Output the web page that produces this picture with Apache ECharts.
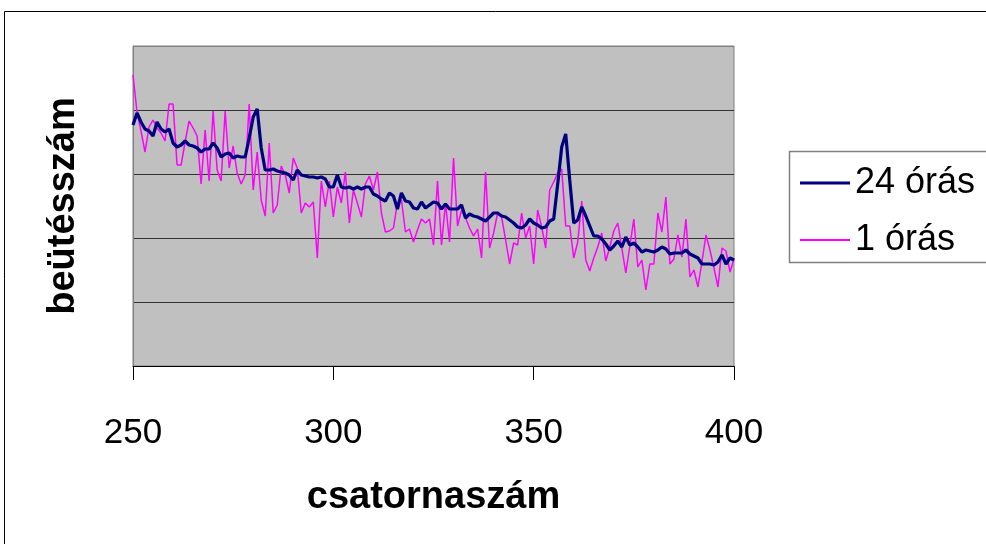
<!DOCTYPE html>
<html>
<head>
<meta charset="utf-8">
<script src="https://cdn.jsdelivr.net/npm/echarts@6/dist/echarts.min.js"></script>
<style>
  html, body { margin: 0; padding: 0; background: #fff; }
  #chart { width: 986px; height: 544px; }
</style>
</head>
<body>
<div id="chart"></div>
<script>
// Spectrum counts per channel, channels 250..400
const firstChannel = 250;
const xTicks = [250, 300, 350, 400];
const seriesNames = ['24 órás', '1 órás'];

const counts24h = [
  241, 253, 244, 237, 235, 230, 244, 237, 234, 237,
  223, 219, 221, 225, 221, 220, 218, 214, 217, 217,
  223, 218, 209, 212, 213, 208, 210, 209, 209, 228,
  249, 257, 218, 196, 196, 197, 195, 194, 193, 191,
  186, 196, 191, 190, 189, 189, 188, 189, 187, 179,
  179, 191, 179, 178, 179, 177, 179, 177, 179, 179,
  172, 170, 167, 165, 173, 170, 157, 173, 165, 164,
  158, 157, 164, 158, 161, 164, 163, 157, 162, 157,
  157, 157, 161, 148, 152, 150, 149, 147, 145, 149,
  153, 153, 150, 149, 146, 143, 139, 138, 141, 147,
  143, 141, 138, 139, 145, 147, 182, 219, 232, 186,
  143, 146, 159, 150, 140, 130, 130, 127, 122, 116,
  120, 125, 119, 129, 121, 123, 119, 114, 116, 115,
  114, 116, 119, 117, 112, 113, 113, 113, 116, 112,
  110, 108, 102, 102, 102, 101, 104, 111, 102, 108,
  106
];

const counts1h = [
  291, 254, 235, 214, 239, 246, 238, 233, 225, 262,
  262, 201, 201, 224, 245, 238, 230, 182, 236, 185,
  255, 196, 185, 255, 198, 220, 193, 182, 191, 262,
  176, 214, 166, 150, 223, 153, 161, 200, 191, 173,
  208, 198, 153, 163, 159, 164, 108, 185, 159, 185,
  149, 179, 163, 194, 143, 176, 163, 149, 182, 190,
  176, 194, 153, 134, 135, 138, 163, 166, 134, 137,
  124, 136, 147, 143, 147, 121, 185, 121, 163, 124,
  208, 140, 156, 148, 138, 130, 137, 108, 194, 118,
  133, 153, 149, 126, 102, 123, 121, 153, 128, 140,
  102, 156, 139, 118, 176, 184, 193, 197, 140, 140,
  108, 124, 165, 106, 95, 108, 119, 133, 105, 119,
  135, 143, 118, 93, 120, 147, 99, 106, 76, 102,
  102, 153, 134, 169, 102, 107, 131, 109, 147, 89,
  96, 79, 104, 131, 116, 98, 79, 118, 115, 94,
  107
];

function toPairs(values) {
  return values.map((v, i) => [firstChannel + i, v]);
}

const chart = echarts.init(document.getElementById('chart'), null, { renderer: 'canvas' });

const font = '"Liberation Sans", Arial, sans-serif';

const legendBase = {
  orient: 'vertical',
  left: 790,
  padding: [0, 10, 0, 10],
  itemWidth: 50,
  icon: 'rect',
  textStyle: { fontSize: 36, color: '#000', fontFamily: font }
};

chart.setOption({
  animation: false,
  backgroundColor: '#ffffff',
  textStyle: { fontFamily: font },
  grid: {
    left: 133, right: 252, top: 46, bottom: 178,
    show: true,
    backgroundColor: '#c0c0c0',
    borderColor: '#808080',
    borderWidth: 1
  },
  xAxis: {
    type: 'value',
    min: xTicks[0],
    max: xTicks[xTicks.length - 1],
    interval: 50,
    name: 'csatornaszám',
    nameLocation: 'middle',
    nameGap: 113,
    nameTextStyle: { fontSize: 38, fontWeight: 'bold', color: '#000', fontFamily: font },
    axisLine: { show: true, onZero: false, lineStyle: { color: '#000', width: 1 } },
    axisTick: { show: true, inside: false, length: 14, lineStyle: { color: '#000', width: 1 } },
    axisLabel: { fontSize: 35, color: '#000', margin: 50, fontFamily: font },
    splitLine: { show: false }
  },
  yAxis: {
    type: 'value',
    min: 0,
    max: 320,
    interval: 64,
    name: 'beütésszám',
    nameLocation: 'middle',
    nameGap: 50,
    nameTextStyle: { fontSize: 38, fontWeight: 'bold', color: '#000', fontFamily: font },
    axisLine: { show: true, lineStyle: { color: '#808080', width: 1 } },
    axisTick: { show: false },
    axisLabel: { show: false },
    splitLine: {
      show: true,
      lineStyle: { color: ['#000', '#333', '#333', '#333', '#333', '#808080'], width: 1.2 }
    }
  },
  legend: [
    Object.assign({}, legendBase, { top: 165, itemHeight: 3, data: [seriesNames[0]] }),
    Object.assign({}, legendBase, { top: 222, itemHeight: 2, data: [seriesNames[1]] })
  ],
  graphic: [
    {
      type: 'rect',
      shape: { x: 4.5, y: 11.5, width: 1100, height: 700 },
      style: { fill: 'none', stroke: '#000', lineWidth: 1 },
      silent: true, z: -1
    },
    {
      type: 'rect',
      shape: { x: 789.5, y: 151.5, width: 400, height: 111 },
      style: { fill: '#fff', stroke: '#808080', lineWidth: 1.5 },
      silent: true, z: 0
    }
  ],
  series: [
    {
      name: seriesNames[1],
      type: 'line',
      data: toPairs(counts1h),
      symbol: 'none',
      lineStyle: { color: '#ff00ff', width: 1.5 },
      itemStyle: { color: '#ff00ff' },
      z: 2
    },
    {
      name: seriesNames[0],
      type: 'line',
      data: toPairs(counts24h),
      symbol: 'none',
      lineStyle: { color: '#000080', width: 3.2 },
      itemStyle: { color: '#000080' },
      z: 3
    }
  ]
});
</script>
</body>
</html>
